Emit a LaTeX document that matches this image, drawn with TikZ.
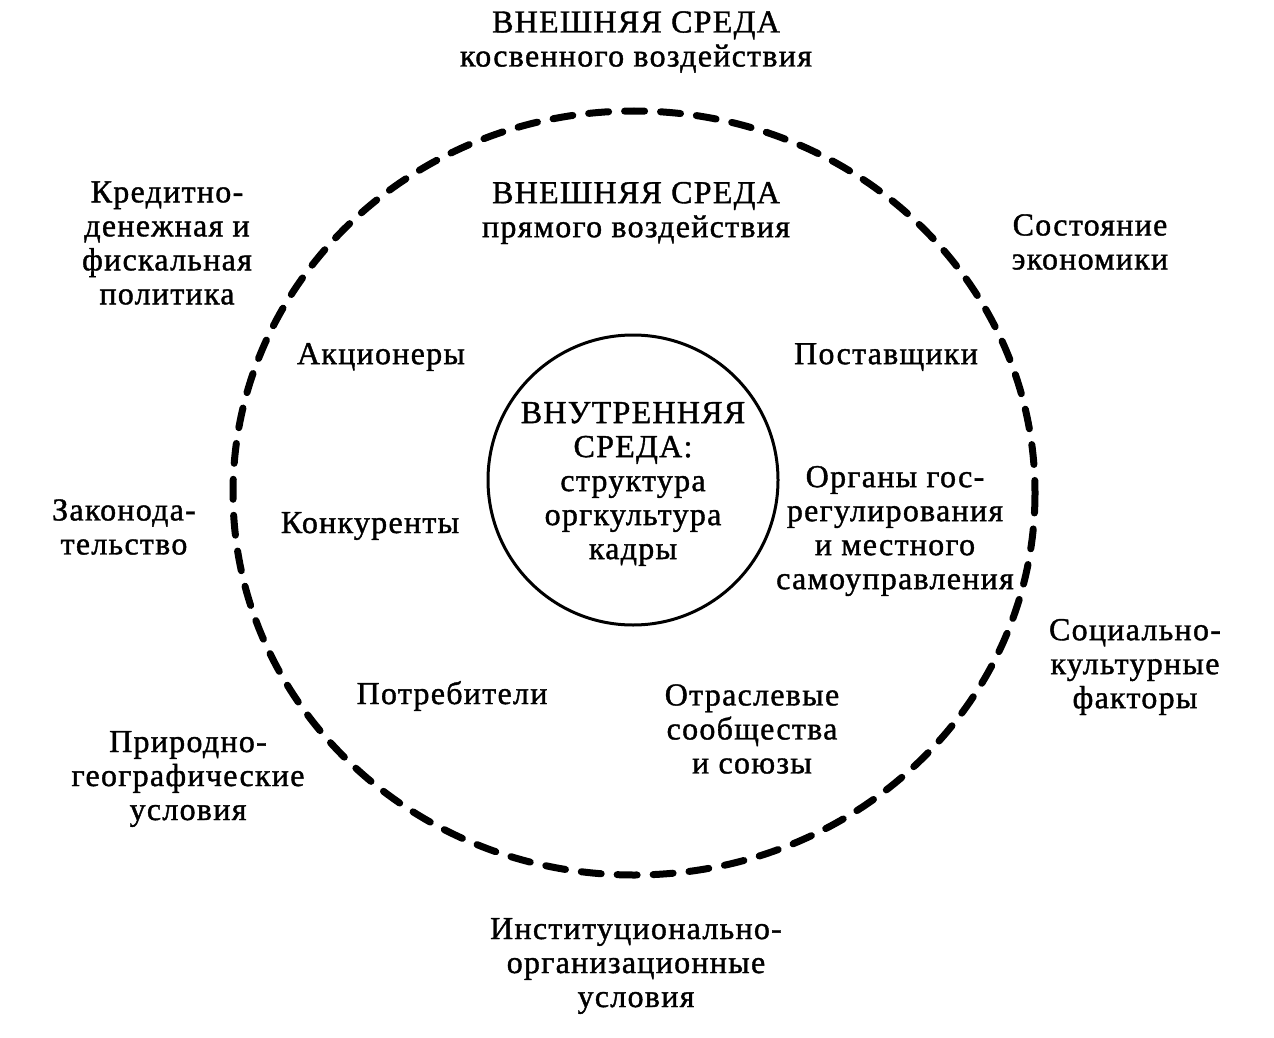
\documentclass[tikz,border=0pt]{standalone}
\usepackage{fontspec}
\setmainfont[LetterSpace=4,FakeBold=1.2]{Liberation Serif}
\begin{document}
\begin{tikzpicture}[x=1pt,y=-1pt,
  lbl/.style={align=center,inner sep=0pt,font=\fontsize{32}{34}\selectfont},
  outer/.style={draw,line width=7pt,dash pattern=on 20pt off 16pt,line cap=round},
  inner/.style={draw,line width=3pt}]
\useasboundingbox (0,0) rectangle (1274,1038);
\draw[outer] (634,493) ellipse [x radius=401, y radius=382];
\node[draw,circle,line width=3pt,minimum size=290pt,inner sep=0pt] (in) at (633,480) {};
\node[lbl] (t1) at (636,42) {ВНЕШНЯЯ СРЕДА\\косвенного воздействия};
\node[lbl] (t2) at (636,213) {ВНЕШНЯЯ СРЕДА\\прямого воздействия};
\node[lbl] (kred) at (167,243) {Кредитно-\\денежная и\\фискальная\\политика};
\node[lbl] (sost) at (1090,242) {Состояние\\экономики};
\node[lbl] (akc) at (381,357) {Акционеры};
\node[lbl] (post) at (886,357) {Поставщики};
\node[lbl] (vn) at (633,484) {ВНУТРЕННЯЯ\\СРЕДА:\\структура\\оргкультура\\кадры};
\node[lbl] (org) at (895,531) {Органы гос-\\регулирования\\и местного\\самоуправления};
\node[lbl] (zak) at (124,527) {Законода-\\тельство};
\node[lbl] (konk) at (370,526) {Конкуренты};
\node[lbl] (soc) at (1135,667) {Социально-\\культурные\\факторы};
\node[lbl] (potr) at (452,696) {Потребители};
\node[lbl] (otr) at (752,729) {Отраслевые\\сообщества\\и союзы};
\node[lbl] (prir) at (188,779) {Природно-\\географические\\условия};
\node[lbl] (inst) at (636,966) {Институционально-\\организационные\\условия};
\end{tikzpicture}
\end{document}
